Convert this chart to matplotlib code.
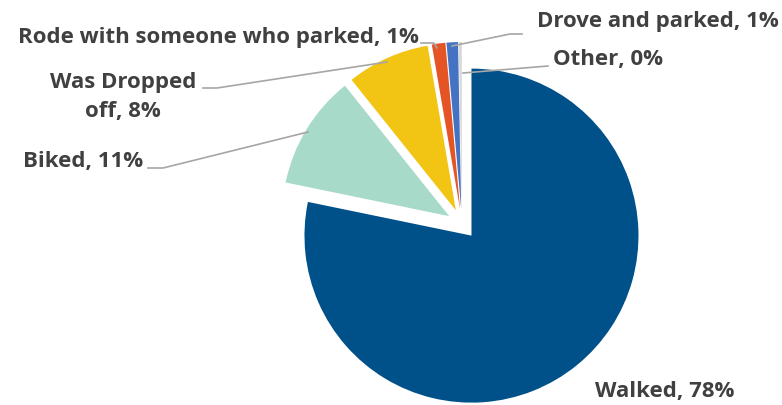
"""
Pie chart of how people got here (travel mode shares)
"""

import matplotlib.pyplot as plt

# data
modes   = ['Walked', 'Biked', 'Was Dropped off', 'Rode with someone who parked',
           'Drove and parked', 'Other']
shares  = [78.0, 11.0, 8.0, 1.3, 1.1, 0.3]
labels  = ['Walked, 78%', 'Biked, 11%', 'Was Dropped\noff, 8%',
           'Rode with someone who parked, 1%', 'Drove and parked, 1%', 'Other, 0%']
colors  = ['#00508A', '#A7DAC9', '#F2C414', '#E55425', '#4573C4', '#D9D9D9']

# figure in pixel units (y runs downward)
W, H    = 782, 405
fig     = plt.figure(figsize=(W/100, H/100), dpi=100)
ax      = fig.add_axes([0, 0, 1, 1])

# explode is in data units here (pixels), not a fraction of the radius
ax.pie(shares, colors=colors, startangle=-90, counterclock=True,
       explode=[15]*len(shares), radius=167, center=(462, 224),
       wedgeprops=dict(linewidth=0), frame=True)

# pie resets the limits, so set them afterwards
ax.set_xlim(0, W)
ax.set_ylim(H, 0)
ax.set_aspect('equal')
ax.axis('off')

# labels and leader lines
txt     = dict(fontsize=16, fontweight='bold', color='#404040', family='Open Sans')
lc      = '#A6A6A6'

ax.text(595, 392, labels[0], ha='left', va='center', **txt)

ax.text(143, 162, labels[1], ha='right', va='center', **txt)
ax.plot([148, 163, 308], [168, 168, 132], color=lc, lw=1.2)

ax.text(123, 97, labels[2], ha='center', va='center', linespacing=1.5, **txt)
ax.plot([203, 217, 387], [88, 88, 62], color=lc, lw=1.2)

ax.text(419, 37, labels[3], ha='right', va='center', **txt)
ax.plot([421, 434, 437], [43, 43, 48], color=lc, lw=1.2)

ax.text(537, 22, labels[4], ha='left', va='center', **txt)
ax.plot([452, 510, 522], [46, 34, 34], color=lc, lw=1.2)

ax.text(553, 60, labels[5], ha='left', va='center', **txt)
ax.plot([463, 548], [73, 66], color=lc, lw=1.2)

fig.savefig('out.png', dpi=100)
